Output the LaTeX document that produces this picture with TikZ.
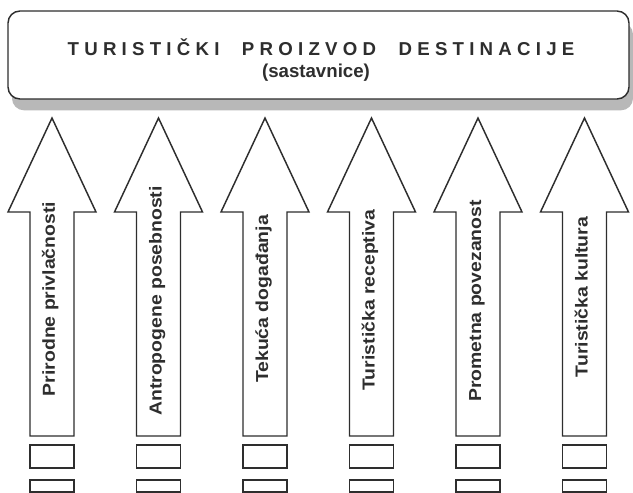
\documentclass[tikz,border=0pt]{standalone}
\usepackage{fontspec}
\setmainfont{Liberation Sans}
\newfontfamily\titlefont{Liberation Sans}[LetterSpace=28]
\newfontfamily\labelfont{Liberation Sans}[FakeStretch=1.12]
\usetikzlibrary{shadows}
\definecolor{inkgray}{HTML}{2E2E2E}
\definecolor{shadegray}{HTML}{B8B8B8}

\begin{document}
\begin{tikzpicture}[x=0.75pt, y=-0.75pt,
    every node/.style={text=inkgray},
    uparrow/.style={draw=inkgray, line width=1.1pt, fill=white},
    slot/.style={rectangle, draw=inkgray, line width=1.1pt, fill=white, minimum width=33pt, inner sep=0pt},
    factor/.style={rotate=90, anchor=base, inner sep=0pt, font=\labelfont\bfseries\fontsize{13}{15}\selectfont}]
\useasboundingbox (0,0) rectangle (633,493);

    % Product
    \node[rectangle, rounded corners=9pt, draw=inkgray, line width=1.1pt, fill=white, minimum width=465.75pt, minimum height=66pt, drop shadow={shadow xshift=3pt, shadow yshift=-8.5pt, fill=shadegray, opacity=1}] (product) at (318.5,55) {};
    \node[font=\titlefont\bfseries\fontsize{14}{16}\selectfont] (title) at (321,47) {TURISTIČKI\hspace{0.65em} PROIZVOD\hspace{0.65em} DESTINACIJE};
    \node[font=\bfseries\fontsize{14}{16}\selectfont] (subtitle) at (316,73) {(sastavnice)};

    % Arrows
    \draw[uparrow] (52,118) -- ++(44,94) -- ++(-22,0) -- ++(0,224) -- ++(-44,0) -- ++(0,-224) -- ++(-22,0) -- cycle;
    \draw[uparrow] (158.5,118) -- ++(44,94) -- ++(-22,0) -- ++(0,224) -- ++(-44,0) -- ++(0,-224) -- ++(-22,0) -- cycle;
    \draw[uparrow] (265,118) -- ++(44,94) -- ++(-22,0) -- ++(0,224) -- ++(-44,0) -- ++(0,-224) -- ++(-22,0) -- cycle;
    \draw[uparrow] (371.5,118) -- ++(44,94) -- ++(-22,0) -- ++(0,224) -- ++(-44,0) -- ++(0,-224) -- ++(-22,0) -- cycle;
    \draw[uparrow] (478,118) -- ++(44,94) -- ++(-22,0) -- ++(0,224) -- ++(-44,0) -- ++(0,-224) -- ++(-22,0) -- cycle;
    \draw[uparrow] (584.5,118) -- ++(44,94) -- ++(-22,0) -- ++(0,224) -- ++(-44,0) -- ++(0,-224) -- ++(-22,0) -- cycle;

    % Labels
    \node[factor] (nature) at (55,299) {Prirodne privlačnosti};
    \node[factor] (heritage) at (161.5,301) {Antropogene posebnosti};
    \node[factor] (events) at (268,299) {Tekuća događanja};
    \node[factor] (reception) at (374.5,300) {Turistička receptiva};
    \node[factor] (transport) at (481,301) {Prometna povezanost};
    \node[factor] (culture) at (587.5,297) {Turistička kultura};

    % Slots
    \node[slot, minimum height=17.25pt] (slotA1) at (52,456.5) {};
    \node[slot, minimum height=17.25pt] (slotB1) at (158.5,456.5) {};
    \node[slot, minimum height=17.25pt] (slotC1) at (265,456.5) {};
    \node[slot, minimum height=17.25pt] (slotD1) at (371.5,456.5) {};
    \node[slot, minimum height=17.25pt] (slotE1) at (478,456.5) {};
    \node[slot, minimum height=17.25pt] (slotF1) at (584.5,456.5) {};
    \node[slot, minimum height=9pt] (slotA2) at (52,486) {};
    \node[slot, minimum height=9pt] (slotB2) at (158.5,486) {};
    \node[slot, minimum height=9pt] (slotC2) at (265,486) {};
    \node[slot, minimum height=9pt] (slotD2) at (371.5,486) {};
    \node[slot, minimum height=9pt] (slotE2) at (478,486) {};
    \node[slot, minimum height=9pt] (slotF2) at (584.5,486) {};
\end{tikzpicture}
\end{document}
